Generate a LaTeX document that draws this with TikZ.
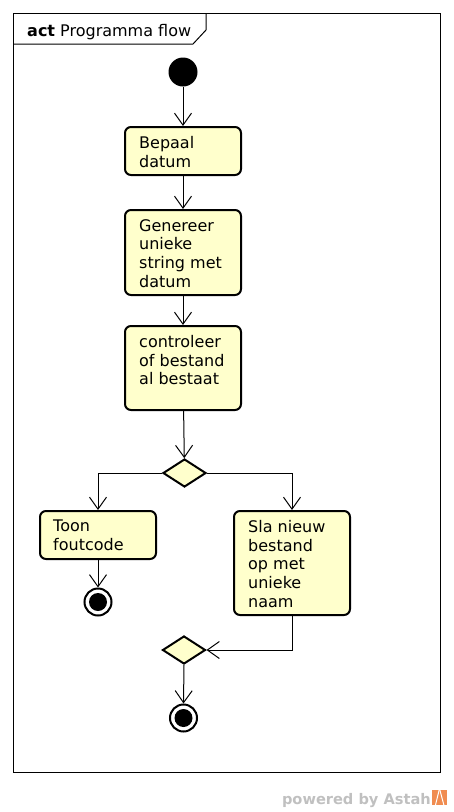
\documentclass[tikz,border=0pt]{standalone}
\usepackage{fontspec}
\setmainfont{DejaVu Sans}
\usetikzlibrary{arrows.meta,shapes.geometric}
\definecolor{actfill}{RGB}{255,255,204}
\definecolor{astahgray}{RGB}{192,192,192}
\definecolor{astahorange}{RGB}{240,140,80}
\tikzset{
  actbox/.style={draw=black, line width=2pt, fill=actfill, rounded corners=6pt, rectangle, inner sep=0pt},
  acttext/.style={anchor=north west, align=left, inner sep=0pt, font=\fontsize{16}{18.7}\selectfont},
  flow/.style={line width=1pt, -{Straight Barb[length=12pt,width=17pt,line width=1pt]}},
  decision/.style={draw=black, line width=2pt, fill=actfill, diamond, minimum width=43pt, minimum height=28pt, inner sep=0pt, aspect=1.5},
  startnode/.style={circle, fill=black, minimum size=29pt, inner sep=0pt},
  endouter/.style={circle, draw=black, line width=2pt, fill=white, minimum size=27pt, inner sep=0pt},
  endinner/.style={circle, fill=black, minimum size=18pt, inner sep=0pt}
}
\begin{document}
\begin{tikzpicture}[x=1pt,y=-1pt]
\useasboundingbox (0,0) rectangle (453,812);
% frame
\node[draw=black, line width=1pt, rectangle, minimum width=427pt, minimum height=759pt, inner sep=0pt] (frame) at (226.5,392.5) {};
\coordinate (tabA) at (13,44);
\coordinate (tabB) at (193,44);
\coordinate (tabC) at (206,30);
\coordinate (tabD) at (206,13);
\draw[line width=1pt] (tabA) -- (tabB) -- (tabC) -- (tabD);
\node[anchor=base west, inner sep=0pt, font=\fontsize{16}{19}\selectfont] (title) at (27,36) {\textbf{act} Programma flow};

% start
\node[startnode] (start) at (183,72) {};

% box 1
\node[actbox, minimum width=116pt, minimum height=48pt] (b1) at (183,151) {};
\node[acttext] (t1) at (139,136) {Bepaal\\datum};
% box 2
\node[actbox, minimum width=116pt, minimum height=85pt] (b2) at (183,252.5) {};
\node[acttext] (t2) at (139,219) {Genereer\\unieke\\string met\\datum};
% box 3
\node[actbox, minimum width=116pt, minimum height=84pt] (b3) at (183,368) {};
\node[acttext] (t3) at (139,335) {controleer\\of bestand\\al bestaat};

% decision 1
\node[decision] (d1) at (184.5,473) {};

% box 4
\node[actbox, minimum width=116pt, minimum height=48pt] (b4) at (98,535) {};
\node[acttext] (t4) at (53,520) {Toon\\foutcode};
% box 5
\node[actbox, minimum width=116pt, minimum height=104pt] (b5) at (292,563) {};
\node[acttext] (t5) at (248,520) {Sla nieuw\\bestand\\op met\\unieke\\naam};

% final 1
\node[endouter] (f1) at (98,602) {};
\node[endinner] (f1i) at (98,602) {};
% decision 2
\node[decision] (d2) at (184,650) {};
% final 2
\node[endouter] (f2) at (183.5,718) {};
\node[endinner] (f2i) at (183.5,718) {};

% connectors
\draw[flow] (start) -- (b1);
\draw[flow] (b1) -- (b2);
\draw[flow] (b2) -- (b3);
\draw[flow] (b3) -- (d1);
\draw[flow] (d1.west) -| (b4.north);
\draw[flow] (d1.east) -| (b5.north);
\draw[flow] (b4) -- (f1);
\draw[flow] (b5.south) |- (d2.east);
\draw[flow] (d2.south) -- (f2.north);

% powered by
\node[anchor=base east, inner sep=0pt, text=astahgray, font=\fontsize{14.6}{16}\bfseries] (pow) at (431,804) {powered by Astah};
\node[fill=astahorange, minimum width=15pt, minimum height=15pt, inner sep=0pt, anchor=south west] (logo) at (432,805) {};
\draw[white, line width=1pt] ([xshift=2pt,yshift=4pt]logo.north west) -- ([xshift=-2pt,yshift=4pt]logo.north east);
\draw[white, line width=1pt] ([xshift=7.5pt,yshift=1pt]logo.north west) -- ([xshift=3pt,yshift=-2pt]logo.south west);
\draw[white, line width=1pt] ([xshift=7.5pt,yshift=1pt]logo.north west) -- ([xshift=-3pt,yshift=-2pt]logo.south east);
\end{tikzpicture}
\end{document}
